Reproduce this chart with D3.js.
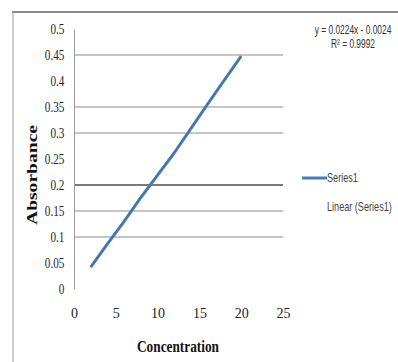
<!DOCTYPE html>
<html>
<head>
<meta charset="utf-8">
<script src="https://cdn.jsdelivr.net/npm/d3@7"></script>
<style>
  body { margin: 0; background: #fff; }
  svg { display: block; }
</style>
</head>
<body>
<div id="chart"></div>
<script>
// values
const concentration = [2, 4, 6, 8, 10, 12, 14, 16, 18, 20];
const absorbance = [0.042, 0.087, 0.13, 0.176, 0.219, 0.262, 0.309, 0.356, 0.402, 0.448];
const yTicks = [0, 0.05, 0.1, 0.15, 0.2, 0.25, 0.3, 0.35, 0.4, 0.45, 0.5];
const xTicks = [0, 5, 10, 15, 20, 25];
// the scan only shows some of the gridlines
const gridValues = [0.1, 0.15, 0.3, 0.35, 0.45];
const strongGrid = [0.2];
const trendText = ["y = 0.0224x - 0.0024", "R² = 0.9992"];
const legendNames = ["Series1", "Linear (Series1)"];

const W = 398, H = 362;
const margin = {top: 29, right: 115, bottom: 73, left: 74},
    width = W - margin.left - margin.right,
    height = H - margin.top - margin.bottom;

const serif = "'Liberation Serif', 'Times New Roman', serif";
const sans = "'Liberation Sans', Arial, sans-serif";

const svg = d3.select("#chart")
    .append("svg")
    .attr("width", W)
    .attr("height", H);

// outer frame (top and left edges only survive in the scan)
svg.append("line")
    .attr("x1", 12).attr("x2", W).attr("y1", 12).attr("y2", 12)
    .attr("stroke", "#8a8a8a").attr("stroke-width", 2);
svg.append("line")
    .attr("x1", 13).attr("x2", 13).attr("y1", 12).attr("y2", H)
    .attr("stroke", "#9a9a9a").attr("stroke-width", 1);

const g = svg.append("g")
    .attr("transform", "translate(" + margin.left + "," + margin.top + ")");

const x = d3.scaleLinear().domain([0, 25]).range([0, width]);
const y = d3.scaleLinear().domain([0, 0.5]).range([height, 0]);

// gridlines
g.selectAll(".grid")
    .data(gridValues)
    .enter()
    .append("line")
    .attr("x1", 0).attr("x2", width)
    .attr("y1", d => y(d)).attr("y2", d => y(d))
    .attr("stroke", "#8c8c8c").attr("stroke-width", 1);
g.selectAll(".grid2")
    .data(strongGrid)
    .enter()
    .append("line")
    .attr("x1", 0).attr("x2", width)
    .attr("y1", d => y(d)).attr("y2", d => y(d))
    .attr("stroke", "#7a7a7a").attr("stroke-width", 2);

// y axis
const yAxis = g.append("g")
    .call(d3.axisLeft(y).tickValues(yTicks).tickSize(0).tickPadding(12)
        .tickFormat(d => String(+d.toFixed(2))));
yAxis.select(".domain").attr("stroke", "#999").attr("stroke-width", 1);
yAxis.selectAll("text")
    .style("font-family", serif)
    .style("font-size", "14px")
    .attr("fill", "#222")
    .attr("transform", "scale(0.8,1)");

// x axis (labels only)
const xAxis = g.append("g")
    .attr("transform", "translate(0," + (height + 19) + ")")
    .call(d3.axisBottom(x).tickValues(xTicks).tickSize(0).tickPadding(0));
xAxis.select(".domain").remove();
xAxis.selectAll("text")
    .style("font-family", serif)
    .style("font-size", "14px")
    .attr("fill", "#222");

// series line
const line = d3.line()
    .x((d, i) => x(concentration[i]))
    .y(d => y(d));
g.append("path")
    .datum(absorbance)
    .attr("fill", "none")
    .attr("stroke", "#4a7ebb")
    .attr("stroke-width", 3)
    .attr("stroke-linejoin", "round")
    .attr("d", line);
// trendline drawn thin on top
g.append("path")
    .datum(absorbance)
    .attr("fill", "none")
    .attr("stroke", "#2b4a6e")
    .attr("stroke-opacity", 0.45)
    .attr("stroke-width", 0.8)
    .attr("d", line);

// axis titles
svg.append("text")
    .attr("x", 178).attr("y", 352)
    .attr("text-anchor", "middle")
    .attr("textLength", 82)
    .attr("lengthAdjust", "spacingAndGlyphs")
    .style("font-family", serif)
    .style("font-weight", "bold")
    .style("font-size", "16px")
    .attr("fill", "#111")
    .text("Concentration");
svg.append("text")
    .attr("transform", "translate(37,175) rotate(-90)")
    .attr("text-anchor", "middle")
    .attr("textLength", 100)
    .attr("lengthAdjust", "spacingAndGlyphs")
    .style("font-family", serif)
    .style("font-weight", "bold")
    .style("font-size", "14px")
    .attr("fill", "#111")
    .text("Absorbance");

// trendline equation, squeezed horizontally like the narrow font
svg.selectAll(".eq")
    .data(trendText)
    .enter()
    .append("text")
    .attr("transform", (d, i) => "translate(353," + (34 + i * 14) + ") scale(0.7,1)")
    .attr("text-anchor", "middle")
    .style("font-family", sans)
    .style("font-size", "12px")
    .attr("fill", "#333")
    .text(d => d);

// legend
svg.append("line")
    .attr("x1", 302).attr("x2", 327).attr("y1", 178).attr("y2", 178)
    .attr("stroke", "#4a7ebb").attr("stroke-width", 3);
svg.selectAll(".leg")
    .data(legendNames)
    .enter()
    .append("text")
    .attr("transform", (d, i) => "translate(327," + (182 + i * 29) + ") scale(0.76,1)")
    .style("font-family", sans)
    .style("font-size", "12px")
    .attr("fill", "#444")
    .text(d => d);
</script>
</body>
</html>
